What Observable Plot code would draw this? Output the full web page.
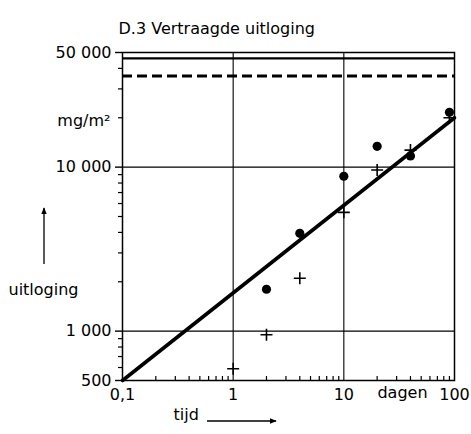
<!DOCTYPE html>
<html>
<head>
<meta charset="utf-8">
<script src="https://cdn.jsdelivr.net/npm/d3@7"></script>
<script src="https://cdn.jsdelivr.net/npm/@observablehq/plot@0.6"></script>
<style>
  html, body { margin: 0; padding: 0; background: #fff; }
</style>
</head>
<body>
<div id="chart"></div>
<script>
// ---- data ----
const titleText = "D.3 Vertraagde uitloging";
const xMajorTicks = [0.1, 1, 10, 100];
const xMajorLabels = ["0,1", "1", "10", "100"];
const yMajorTicks = [500, 1000, 10000, 50000];
const yMajorLabels = ["500", "1 000", "10 000", "50 000"];
const xMinorTicks = [0.2,0.3,0.4,0.5,0.6,0.7,0.8,0.9, 2,3,4,5,6,7,8,9, 20,30,40,50,60,70,80,90];
const yMinorTicks = [600,700,800,900, 2000,3000,4000,5000,6000,7000,8000,9000, 20000,30000,40000];
const gridX = [1, 10];
const gridY = [1000, 10000];
const solidLevel = [46000];
const dashedLevel = [36000];
const fitX = [0.1, 100];
const fitY = [500, 20000];
const dotsX = [2, 4, 10, 20, 40, 90];
const dotsY = [1800, 3950, 8800, 13400, 11700, 21600];
const plusX = [1, 2, 4, 10, 20, 40, 90];
const plusY = [590, 950, 2100, 5300, 9600, 12700, 20000];
const unitLabel = "mg/m²";
const yName = "uitloging";
const xName = "tijd";
const xUnit = "dagen";

const W = 471, H = 434;
const mL = 122, mR = 17, mT = 52, mB = 54;
const plotH = H - mT - mB;
const plotW = W - mL - mR;

const fitData = fitX.map((x, i) => ({x, y: fitY[i]}));
const dotData = dotsX.map((x, i) => ({x, y: dotsY[i]}));
const plusData = plusX.map((x, i) => ({x, y: plusY[i]}));
const yLabelData = yMajorTicks.map((v, i) => ({v, label: yMajorLabels[i]}));

const plusSymbol = {
  draw(ctx, size) {
    const r = Math.sqrt(size / Math.PI);
    ctx.moveTo(-r, 0); ctx.lineTo(r, 0);
    ctx.moveTo(0, -r); ctx.lineTo(0, r);
  }
};

const chart = Plot.plot({
  width: W, height: H,
  marginLeft: mL, marginRight: mR, marginTop: mT, marginBottom: mB,
  style: {fontFamily: "DejaVu Sans", fontSize: "16px", color: "#000", background: "#fff"},
  x: {type: "log", domain: [0.1, 100]},
  y: {type: "log", domain: [500, 50000], axis: null},
  marks: [
    Plot.ruleX(gridX, {stroke: "#000", strokeWidth: 1.1}),
    Plot.ruleY(gridY, {stroke: "#000", strokeWidth: 1.1}),
    Plot.tickX(xMinorTicks, {x: d => d, stroke: "#000", strokeWidth: 1.2, insetTop: plotH - 4}),
    Plot.tickY(yMinorTicks, {y: d => d, stroke: "#000", strokeWidth: 1.2, insetRight: plotW - 4, dx: -4}),
    Plot.tickY(yMajorTicks, {y: d => d, stroke: "#000", strokeWidth: 1.4, insetRight: plotW - 7, dx: -7}),
    Plot.text(yLabelData, {y: "v", text: "label", frameAnchor: "left", textAnchor: "end", dx: -11, fontSize: 16}),
    Plot.axisX(xMajorTicks, {tickSize: 0, tickPadding: 8, label: null,
      tickFormat: d => xMajorLabels[xMajorTicks.indexOf(d)]}),
    Plot.ruleY(solidLevel, {stroke: "#000", strokeWidth: 2.2}),
    Plot.ruleY(dashedLevel, {stroke: "#000", strokeWidth: 3, strokeDasharray: "10,5"}),
    Plot.line(fitData, {x: "x", y: "y", stroke: "#000", strokeWidth: 3.6}),
    Plot.dot(dotData, {x: "x", y: "y", r: 4.6, fill: "#000", stroke: "none"}),
    Plot.dot(plusData, {x: "x", y: "y", r: 6, symbol: plusSymbol, fill: "none", stroke: "#000", strokeWidth: 1.6}),
    Plot.frame({stroke: "#000", strokeWidth: 1.5}),
    Plot.text([titleText], {frameAnchor: "top-left", textAnchor: "start", dx: -4, dy: -30, fontSize: 16}),
    Plot.text([unitLabel], {frameAnchor: "top-left", textAnchor: "end", dx: -12, dy: 62, fontSize: 16}),
    Plot.text([yName], {frameAnchor: "top-left", textAnchor: "start", dx: -114, dy: 231, fontSize: 16}),
    Plot.text([xUnit], {frameAnchor: "bottom-right", textAnchor: "middle", dx: -52, dy: 17, fontSize: 16}),
    Plot.text([xName], {frameAnchor: "bottom-left", textAnchor: "start", dx: 51, dy: 39, fontSize: 16})
  ]
});

// axis arrows (decorations)
const svg = d3.select(chart);
const defs = svg.append("defs");
defs.append("marker").attr("id", "ah").attr("viewBox", "0 0 10 10")
  .attr("refX", 9).attr("refY", 5).attr("markerWidth", 7).attr("markerHeight", 7)
  .attr("markerUnits", "userSpaceOnUse").attr("orient", "auto")
  .append("path").attr("d", "M0,1L10,5L0,9Z").attr("fill", "#000");
svg.append("line").attr("x1", 44).attr("y1", 264).attr("x2", 44).attr("y2", 208)
  .attr("stroke", "#000").attr("stroke-width", 1.3).attr("marker-end", "url(#ah)");
svg.append("line").attr("x1", 207).attr("y1", 421).attr("x2", 276).attr("y2", 421)
  .attr("stroke", "#000").attr("stroke-width", 1.3).attr("marker-end", "url(#ah)");

document.getElementById("chart").appendChild(chart);
</script>
</body>
</html>
